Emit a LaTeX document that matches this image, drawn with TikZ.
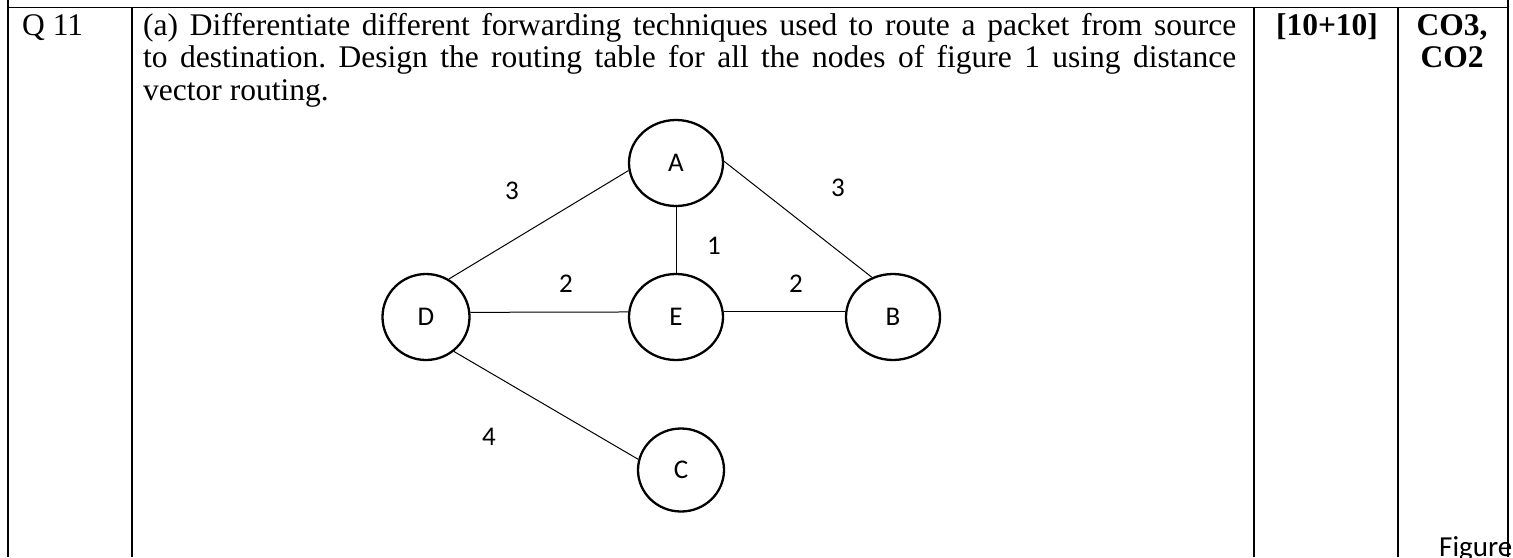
\documentclass[tikz,border=0pt]{standalone}
\usepackage{fontspec}
\setmainfont{Liberation Serif}
\newfontfamily\calfont{Carlito}
\usetikzlibrary{shapes.geometric}
\frenchspacing
\begin{document}
\begin{tikzpicture}[x=1pt,y=-1pt,
  tabrule/.style={line width=1.4pt, black},
  gnode/.style={draw, ellipse, line width=2.3pt, inner sep=0pt, minimum width=94pt, minimum height=86pt, font=\calfont\fontsize{27}{32}\selectfont},
  gedge/.style={line width=1pt},
  wlabel/.style={font=\calfont\fontsize{27}{32}\selectfont, inner sep=0pt},
  celltext/.style={font=\fontsize{31.5}{32.5}\selectfont, inner sep=0pt},
  boldcell/.style={font=\bfseries\fontsize{31.5}{32.5}\selectfont, inner sep=0pt}]
\useasboundingbox (0,0) rectangle (1513,557);
\clip (0,0) rectangle (1513,557);
% table rules
\draw[tabrule] (8,7.5) -- (1508,7.5);
\draw[tabrule] (8,0) -- (8,557);
\draw[tabrule] (132,7.5) -- (132,557);
\draw[tabrule] (1254,7.5) -- (1254,557);
\draw[tabrule] (1398,7.5) -- (1398,557);
\draw[tabrule] (1508,0) -- (1508,557);
% cell texts
\node[celltext, anchor=base west] (q) at (22,35) {Q 11};
\node[celltext, anchor=base west, text width=1093pt, align=justify] (body) at (143,35) {(a) Differentiate different forwarding techniques used to route a packet from source\linebreak to destination. Design the routing table for all the nodes of figure 1 using distance\linebreak vector routing.};
\node[boldcell, anchor=base] (marks) at (1327,35) {[10+10]};
\node[boldcell, anchor=base] (co3) at (1452,35) {CO3,};
\node[boldcell, anchor=base] (co2) at (1452,67.5) {CO2};
% graph nodes
\node[gnode] (A) at (676,163) {A};
\node[gnode] (E) at (676,317) {E};
\node[gnode, minimum width=87pt] (D) at (426,317) {D};
\node[gnode] (B) at (893,317) {B};
\node[gnode, minimum width=86pt, minimum height=83pt] (C) at (681,470) {C};
% edges
\draw[gedge] (A.189) -- (D.59);
\draw[gedge] (A.south) -- (E.north);
\draw[gedge] (A.2) -- (B.118);
\draw[gedge] (D.6) -- (E.174);
\draw[gedge] (E.6) -- (B.174);
\draw[gedge] (D.-51) -- (C.166);
% weights
\node[wlabel] (wAD) at (512,191) {3};
\node[wlabel] (wAB) at (838,188) {3};
\node[wlabel] (wAE) at (714,246) {1};
\node[wlabel] (wDE) at (566,284) {2};
\node[wlabel] (wEB) at (796,284) {2};
\node[wlabel] (wDC) at (489,437) {4};
% caption fragment
\node[font=\calfont\fontsize{29}{34}\selectfont, inner sep=0pt, anchor=base west] (fig) at (1439,556) {Figure};
\end{tikzpicture}
\end{document}
